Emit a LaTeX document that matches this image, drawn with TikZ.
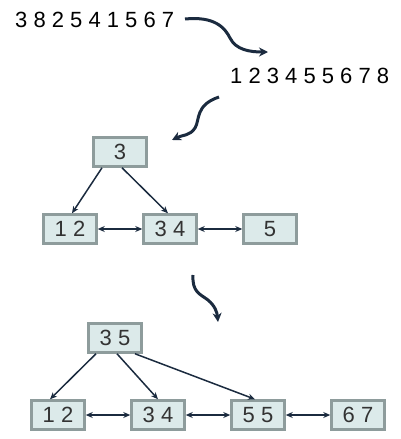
\documentclass[tikz,border=0pt]{standalone}
\usepackage{fontspec}
\setmainfont{Liberation Sans}
\usetikzlibrary{arrows.meta}
\definecolor{boxfill}{HTML}{DCEAEA}
\definecolor{boxline}{HTML}{8E9C9C}
\definecolor{navy}{HTML}{1B2B3F}
\definecolor{txt}{HTML}{333333}
\tikzset{
  bnode/.style={draw=boxline, fill=boxfill, line width=2.5pt, minimum width=53pt, minimum height=29pt, inner sep=0pt, font=\fontsize{22}{24}\selectfont, text=txt},
  seq/.style={font=\fontsize{22}{24}\selectfont, text=black, inner sep=0pt},
  curvy/.style={line width=3pt, draw=navy, -{Stealth[length=9pt,width=9pt]}},
  tarrow/.style={line width=1.5pt, draw=navy, -{Stealth[length=7pt,width=6pt]}},
  darrow/.style={line width=1.5pt, draw=navy, {Stealth[length=7pt,width=6pt]}-{Stealth[length=7pt,width=6pt]}}
}
\begin{document}
\begin{tikzpicture}[x=1pt,y=-1pt]
\useasboundingbox (0,0) rectangle (400,439);
\node[seq, anchor=west] (s1) at (15,20) {3 8 2 5 4 1 5 6 7};
\node[seq, anchor=west] (s2) at (230,76) {1 2 3 4 5 5 6 7 8};
\coordinate (c1s) at (185,19);
\coordinate (c1e) at (268,52);
\draw[curvy] (c1s) .. controls (215,16) and (225,28) .. (230,38) .. controls (236,50) and (250,52) .. (c1e);
\coordinate (c2s) at (219,97);
\coordinate (c2e) at (172,140);
\draw[curvy] (c2s) .. controls (195,105) and (200,120) .. (195,128) .. controls (190,136) and (182,135) .. (c2e);
% first tree
\node[bnode] (a3) at (120,152) {3};
\node[bnode] (a12) at (70,229) {1 2};
\node[bnode] (a34) at (170,229) {3 4};
\node[bnode] (a5) at (270,229) {5};
\draw[tarrow] ([xshift=-18pt]a3.south) -- ([xshift=2pt]a12.north);
\draw[tarrow] ([xshift=2pt]a3.south) -- ([xshift=-2pt]a34.north);
\draw[darrow] (a12) -- (a34);
\draw[darrow] (a34) -- (a5);
\coordinate (c3s) at (193,275);
\coordinate (c3e) at (218,322);
\draw[curvy] (c3s) .. controls (192,292) and (200,294) .. (208,300) .. controls (215,306) and (217,312) .. (c3e);
% second tree
\node[bnode] (b35) at (115,338) {3 5};
\node[bnode] (b12) at (58,415) {1 2};
\node[bnode] (b34) at (158,415) {3 4};
\node[bnode] (b55) at (258,415) {5 5};
\node[bnode] (b67) at (358,415) {6 7};
\draw[tarrow] ([xshift=-19pt]b35.south) -- ([xshift=-8pt]b12.north);
\draw[tarrow] ([xshift=2pt]b35.south) -- ([xshift=0pt]b34.north);
\draw[tarrow] ([xshift=20pt]b35.south) -- ([xshift=-3pt]b55.north);
\draw[darrow] (b12) -- (b34);
\draw[darrow] (b34) -- (b55);
\draw[darrow] (b55) -- (b67);
\end{tikzpicture}
\end{document}
